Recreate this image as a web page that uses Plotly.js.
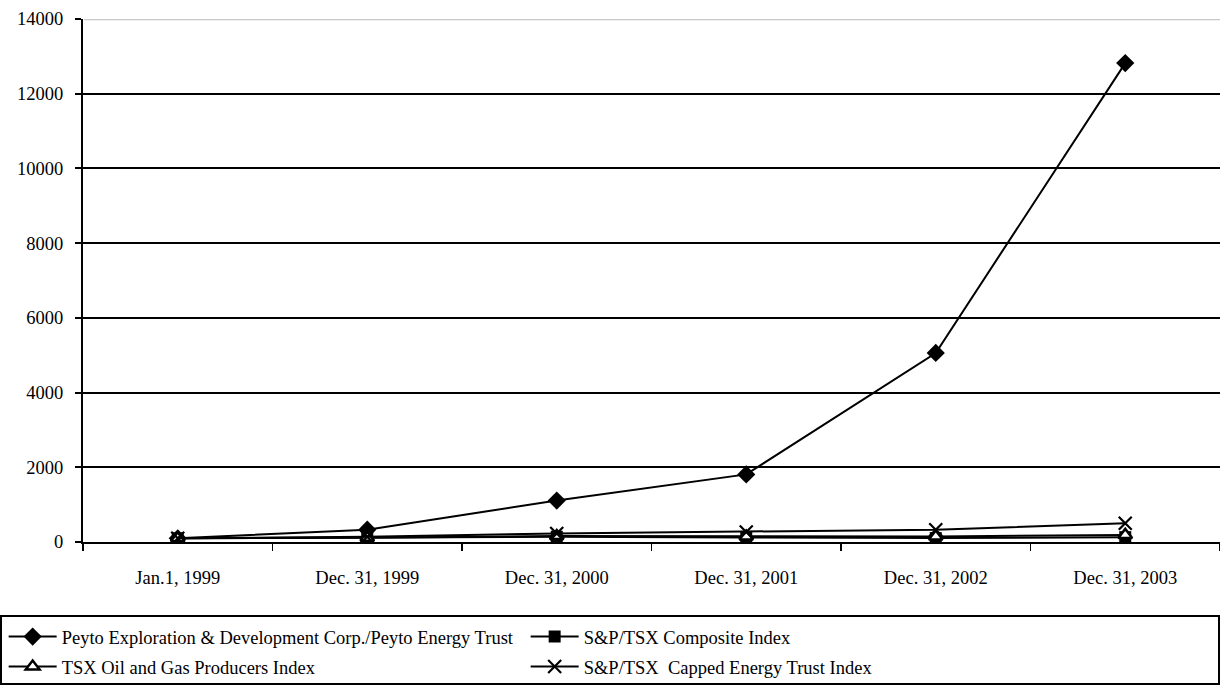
<!DOCTYPE html>
<html>
<head>
<meta charset="utf-8">
<script src="https://cdn.plot.ly/plotly-3.0.1.min.js"></script>
<style>html,body{margin:0;padding:0;background:#fff;}#chart{width:1220px;height:685px;}</style>
</head>
<body>
<div id="chart"></div>
<script>
var categories = ['Jan.1, 1999', 'Dec. 31, 1999', 'Dec. 31, 2000', 'Dec. 31, 2001', 'Dec. 31, 2002', 'Dec. 31, 2003'];
var peyto = [100, 330, 1110, 1810, 5060, 12820];
var composite = [100, 130, 140, 120, 105, 130];
var oilGas = [100, 115, 160, 145, 150, 190];
var cappedTrust = [100, 140, 230, 270, 330, 500];
var seriesNames = ['Peyto Exploration & Development Corp./Peyto Energy Trust', 'S&P/TSX Composite Index', 'TSX Oil and Gas Producers Index', 'S&P/TSX  Capped Energy Trust Index'];
var yTicks = [0, 2000, 4000, 6000, 8000, 10000, 12000, 14000];

var FONT = 'Liberation Serif';
var FS = 18.5;
function tr(y, name, sym, size, fill, mline, leg) {
  return {
    x: categories, y: y, name: name, type: 'scatter', mode: 'lines+markers', legend: leg,
    line: {color: '#000', width: 2},
    marker: {symbol: sym, size: size, color: fill, line: {color: '#000', width: mline}}
  };
}
var data = [
  tr(peyto, seriesNames[0], 'diamond', 14, '#000', 0, 'legend'),
  tr(composite, seriesNames[1], 'square', 12, '#000', 0, 'legend'),
  tr(oilGas, seriesNames[2], 'triangle-up', 12, '#fff', 2.5, 'legend2'),
  tr(cappedTrust, seriesNames[3], 'x-thin-open', 13, '#000', 2.2, 'legend2')
];

var W = 1220, H = 685, L = 83, R = 0, T = 19, B = 143;
var pw = W - L - R, ph = H - T - B;
function px(x) { return (x - L) / pw; }
function py(y) { return (H - B - y) / ph; }

function leg(yc) {
  return {
    orientation: 'h', xref: 'container', yref: 'container',
    x: 0.003, y: 1 - yc / H, xanchor: 'left', yanchor: 'middle',
    entrywidth: 459, entrywidthmode: 'pixels', itemwidth: 48,
    font: {family: FONT, size: FS, color: '#000'},
    bgcolor: 'rgba(0,0,0,0)', borderwidth: 0, traceorder: 'normal'
  };
}

var layout = {
  width: W, height: H,
  margin: {l: L, r: R, t: T, b: B, pad: 0},
  paper_bgcolor: '#fff', plot_bgcolor: '#fff',
  font: {family: FONT, size: FS, color: '#000'},
  showlegend: true,
  legend: leg(637),
  legend2: leg(667),
  xaxis: {
    type: 'category', tickvals: categories, ticktext: categories,
    range: [-0.5, 5.5], showline: true, linecolor: '#000', linewidth: 2,
    ticks: 'outside', ticklen: 7, tickwidth: 1.5, tickcolor: '#000', tickson: 'boundaries',
    showgrid: false, zeroline: false, ticklabelstandoff: 18,
    tickfont: {family: FONT, size: FS, color: '#000'}
  },
  yaxis: {
    range: [0, 14000], tickvals: yTicks, ticktext: yTicks.map(String),
    showline: true, linecolor: '#000', linewidth: 2,
    ticks: 'outside', ticklen: 6, tickwidth: 2, tickcolor: '#000',
    showgrid: true, gridcolor: '#000', gridwidth: 2, zeroline: false,
    ticklabelstandoff: 8,
    tickfont: {family: FONT, size: FS, color: '#000'}
  },
  shapes: [
    {type: 'line', xref: 'paper', yref: 'y', x0: 0.001, x1: 1, y0: 14000, y1: 14000,
     line: {color: '#c8c8c8', width: 2.5}, layer: 'above'},
    {type: 'rect', xref: 'paper', yref: 'paper', x0: px(1), x1: px(1219), y0: py(616), y1: py(684),
     line: {color: '#000', width: 2}, fillcolor: 'rgba(0,0,0,0)'}
  ]
};
Plotly.newPlot('chart', data, layout, {displayModeBar: false, staticPlot: true});
</script>
</body>
</html>
